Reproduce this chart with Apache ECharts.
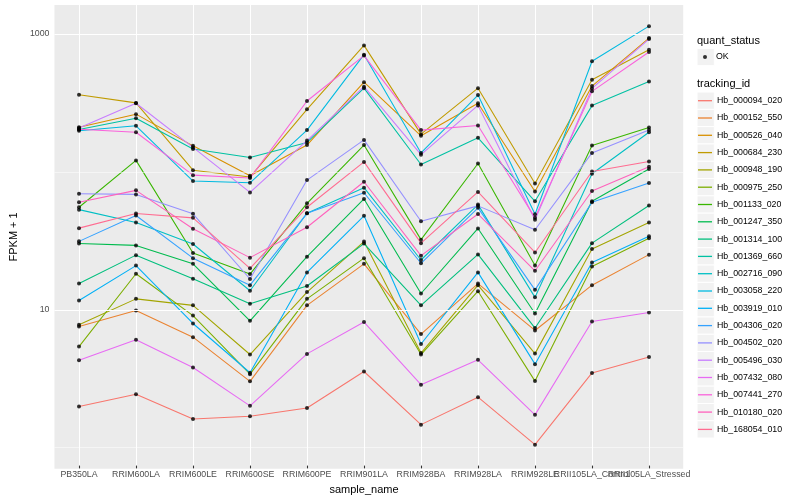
<!DOCTYPE html>
<html>
<head>
<meta charset="utf-8">
<script src="https://cdn.jsdelivr.net/npm/echarts@6/dist/echarts.min.js"></script>
<style>html,body{margin:0;padding:0;background:#fff}#c{width:800px;height:500px}</style>
</head>
<body>
<div id="c"></div>
<script>
// ---- data (FPKM + 1) ----
const categories = ['PB350LA','RRIM600LA','RRIM600LE','RRIM600SE','RRIM600PE','RRIM901LA','RRIM928BA','RRIM928LA','RRIM928LE','RRII105LA_Control','RRII105LA_Stressed'];
const trackingIds = ['Hb_000094_020','Hb_000152_550','Hb_000526_040','Hb_000684_230','Hb_000948_190','Hb_000975_250','Hb_001133_020','Hb_001247_350','Hb_001314_100','Hb_001369_660','Hb_002716_090','Hb_003058_220','Hb_003919_010','Hb_004306_020','Hb_004502_020','Hb_005496_030','Hb_007432_080','Hb_007441_270','Hb_010180_020','Hb_168054_010'];
const colors = ['#F8766D','#EA8331','#D89000','#C09B00','#A3A500','#7CAE00','#39B600','#00BB4E','#00BF7D','#00C1A3','#00BFC4','#00BAE0','#00B0F6','#35A2FF','#9590FF','#C77CFF','#E76BF3','#FA62DB','#FF62BC','#FF6C91'];

const Hb_000094_020 = [1.90, 2.33, 1.54, 1.61, 1.85, 3.42, 1.40, 2.22, 1.00, 3.34, 4.36];
const Hb_000152_550 = [7.29, 9.53, 6.09, 2.90, 10.4, 20.9, 6.42, 15.0, 6.82, 14.6, 24.4];
const Hb_000526_040 = [208, 259, 152, 91.8, 154, 443, 180, 311, 70.6, 415, 931];
const Hb_000684_230 = [359, 313, 101, 89.9, 281, 823, 185, 401, 80.8, 462, 766];
const Hb_000948_190 = [7.50, 11.6, 10.4, 4.55, 13.0, 30.4, 4.66, 14.6, 4.62, 26.8, 41.9];
const Hb_000975_250 = [5.20, 17.7, 8.76, 3.27, 11.6, 23.0, 4.55, 13.2, 2.91, 20.0, 32.2];
const Hb_001133_020 = [54.1, 119, 25.1, 17.6, 57.8, 154, 31.4, 113, 20.3, 153, 207];
const Hb_001247_350 = [29.4, 28.5, 20.9, 8.02, 23.6, 62.2, 12.7, 37.9, 9.06, 59.8, 103];
const Hb_001314_100 = [15.0, 24.2, 16.3, 10.7, 14.4, 29.4, 10.4, 24.5, 7.10, 29.6, 55.7];
const Hb_001369_660 = [200, 242, 144, 125, 161, 401, 111, 174, 59.8, 299, 449];
const Hb_002716_090 = [52.0, 41.9, 29.2, 13.3, 48.9, 75.2, 22.3, 56.6, 11.9, 95.0, 191];
const Hb_003058_220 = [196, 213, 84.1, 81.7, 198, 704, 135, 357, 48.1, 630, 1137];
const Hb_003919_010 = [11.3, 20.3, 7.67, 3.35, 18.1, 46.9, 5.43, 18.1, 3.87, 21.4, 33.2];
const Hb_004306_020 = [30.5, 47.1, 23.0, 14.6, 48.9, 69.1, 21.1, 53.6, 13.5, 58.8, 81.3];
const Hb_004502_020 = [68.0, 67.2, 48.5, 16.2, 85.5, 168, 42.8, 55.4, 37.1, 135, 198];
const Hb_005496_030 = [205, 311, 148, 69.5, 166, 411, 131, 300, 43.8, 399, 915];
const Hb_007432_080 = [4.13, 5.84, 3.66, 1.92, 4.60, 7.85, 2.74, 4.16, 1.65, 7.93, 9.22];
const Hb_007441_270 = [201, 191, 92.9, 88.4, 323, 693, 198, 214, 45.3, 380, 737];
const Hb_010180_020 = [58.8, 71.9, 37.7, 23.2, 38.7, 83.1, 24.0, 48.3, 18.6, 71.1, 107];
const Hb_168054_010 = [38.1, 48.7, 45.3, 19.4, 54.1, 116, 29.6, 70.0, 25.3, 98.7, 117];

const seriesValues = [Hb_000094_020, Hb_000152_550, Hb_000526_040, Hb_000684_230, Hb_000948_190, Hb_000975_250, Hb_001133_020, Hb_001247_350, Hb_001314_100, Hb_001369_660, Hb_002716_090, Hb_003058_220, Hb_003919_010, Hb_004306_020, Hb_004502_020, Hb_005496_030, Hb_007432_080, Hb_007441_270, Hb_010180_020, Hb_168054_010];

const majorBreaks = [10, 1000];   // labelled y ticks
const minorBreaks = [1, 100];     // minor grid lines
const Y_MIN = 0.703, Y_MAX = 1623;

// ---- chart ----
const FONT = '"Liberation Sans", Arial, Helvetica, sans-serif';
const chart = echarts.init(document.getElementById('c'), null, {renderer: 'canvas', width: 800, height: 500});

const series = trackingIds.map((id, i) => ({
  name: id, type: 'line', xAxisIndex: 0, yAxisIndex: 0,
  data: seriesValues[i], symbol: 'none', silent: true, z: 2,
  lineStyle: {width: 1.07, color: colors[i]}, itemStyle: {color: colors[i]}
}));

const points = [];
seriesValues.forEach(vals => vals.forEach((v, j) => points.push([categories[j], v])));
series.push({
  name: 'OK', type: 'scatter', xAxisIndex: 0, yAxisIndex: 0, data: points,
  symbol: 'circle', symbolSize: 4, itemStyle: {color: '#000000'}, silent: true, z: 3
});

series.push({
  name: '_grid', type: 'line', xAxisIndex: 1, yAxisIndex: 1, data: [], silent: true, z: 1,
  markLine: {
    silent: true, symbol: ['none', 'none'], label: {show: false}, animation: false,
    data: [
      ...majorBreaks.map(v => ({yAxis: v, lineStyle: {color: '#FFFFFF', width: 1.07, type: 'solid'}})),
      ...minorBreaks.map(v => ({yAxis: v, lineStyle: {color: '#FFFFFF', width: 0.53, type: 'solid'}}))
    ]
  }
});

const boxes = [{type: 'rect', shape: {x: 697, y: 48.35, width: 17.3, height: 17.3}, style: {fill: '#F2F2F2', stroke: '#FFFFFF', lineWidth: 1}, silent: true}];
trackingIds.forEach((id, i) => boxes.push({
  type: 'rect', shape: {x: 697, y: 92.05 + 17.3 * i, width: 17.3, height: 17.3},
  style: {fill: '#F2F2F2', stroke: '#FFFFFF', lineWidth: 1}, silent: true
}));

const option = {
  animation: false,
  backgroundColor: '#FFFFFF',
  textStyle: {fontFamily: FONT},
  title: [
    {text: 'quant_status', left: 697, top: 34, padding: 0, textStyle: {fontSize: 11, fontWeight: 'normal', color: '#000', fontFamily: FONT, lineHeight: 13}},
    {text: 'tracking_id', left: 697, top: 77.8, padding: 0, textStyle: {fontSize: 11, fontWeight: 'normal', color: '#000', fontFamily: FONT, lineHeight: 13}}
  ],
  graphic: boxes,
  grid: [
    {left: 79, right: 151, top: 5, bottom: 31.2, containLabel: false},
    {left: 45, right: 116.8, top: 5, bottom: 31.2, containLabel: false, show: true, backgroundColor: '#EBEBEB', borderWidth: 0}
  ],
  xAxis: [
    {
      type: 'category', gridIndex: 0, data: categories, boundaryGap: false, z: 1,
      axisLine: {show: false},
      axisTick: {show: true, length: 2.75, lineStyle: {color: '#333333', width: 1.07}},
      axisLabel: {interval: 0, fontSize: 8.8, color: '#4D4D4D', margin: 4.5, fontFamily: FONT, hideOverlap: false},
      splitLine: {show: true, lineStyle: {color: '#FFFFFF', width: 1.07}},
      name: 'sample_name', nameLocation: 'middle', nameGap: 13,
      nameTextStyle: {fontSize: 11, color: '#000', fontFamily: FONT}
    },
    {type: 'value', gridIndex: 1, min: 0, max: 1, show: false}
  ],
  yAxis: [
    {type: 'log', logBase: 10, gridIndex: 0, min: Y_MIN, max: Y_MAX, show: false},
    {
      type: 'log', logBase: 10, gridIndex: 1, min: Y_MIN, max: Y_MAX,
      axisLine: {show: false}, axisTick: {show: false}, splitLine: {show: false},
      axisLabel: {
        fontSize: 8.8, color: '#4D4D4D', margin: 5, fontFamily: FONT,
        showMinLabel: false, showMaxLabel: false,
        formatter: v => { const b = majorBreaks.find(m => Math.abs(m - v) / m < 1e-6); return b ? String(b) : ''; }
      },
      name: 'FPKM + 1', nameLocation: 'middle', nameGap: 26,
      nameTextStyle: {fontSize: 11, color: '#000', fontFamily: FONT}
    }
  ],
  legend: [
    {
      data: ['OK'], orient: 'vertical', left: 703, top: 48.35, padding: 0,
      icon: 'circle', itemWidth: 4, itemHeight: 4, selectedMode: false,
      textStyle: {fontSize: 8.8, color: '#000', fontFamily: FONT, lineHeight: 17.3, padding: [0, 0, 0, 4]}
    },
    {
      data: trackingIds, orient: 'vertical', left: 698, top: 92.05, padding: 0,
      icon: 'rect', itemWidth: 14, itemHeight: 1.3, itemGap: 0, selectedMode: false,
      textStyle: {fontSize: 8.8, color: '#000', fontFamily: FONT, lineHeight: 17.3}
    }
  ],
  series: series
};
chart.setOption(option);
</script>
</body>
</html>
